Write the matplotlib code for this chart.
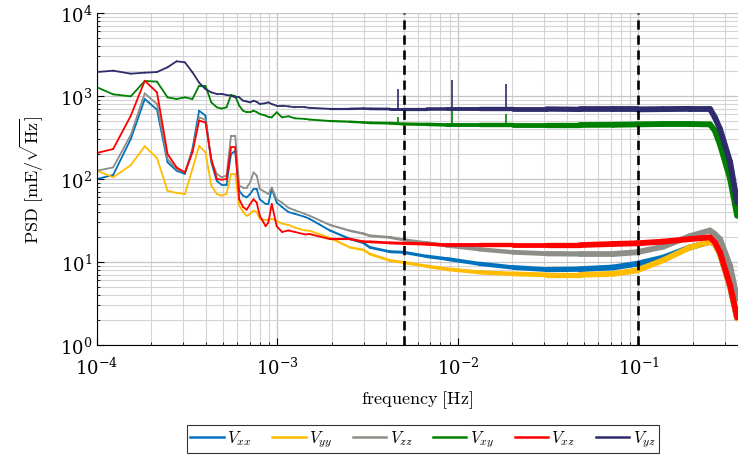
import matplotlib
matplotlib.use("Agg")
import matplotlib.pyplot as plt
from matplotlib.collections import LineCollection
from matplotlib.lines import Line2D
import numpy as np

plt.rcParams['mathtext.fontset'] = 'cm'
plt.rcParams['font.family'] = 'serif'
plt.rcParams['font.serif'] = ['DejaVu Serif']

# frequency axis [Hz]
freq = [1.00e-4, 1.23e-4, 1.54e-4, 1.84e-4, 2.15e-4, 2.46e-4, 2.76e-4, 3.07e-4,
        3.38e-4, 3.68e-4, 3.99e-4, 4.30e-4, 4.61e-4, 4.91e-4, 5.22e-4, 5.53e-4,
        5.83e-4, 6.14e-4, 6.45e-4, 6.75e-4, 7.06e-4, 7.37e-4, 7.67e-4, 7.98e-4,
        8.60e-4, 8.90e-4, 9.30e-4, 9.90e-4, 1.06e-3, 1.15e-3, 1.25e-3, 1.42e-3,
        1.51e-3, 1.95e-3, 2.52e-3, 2.99e-3, 3.25e-3, 4.20e-3, 4.98e-3, 6.70e-3,
        8.65e-3, 1.32e-2, 2.02e-2, 3.10e-2, 4.74e-2, 7.25e-2, 9.77e-2, 1.37e-1,
        1.93e-1, 2.49e-1, 2.65e-1, 2.83e-1, 3.22e-1, 3.52e-1]

Vxx = [100, 112, 304, 920, 684, 159, 126, 115, 230, 665, 580, 159, 95, 85, 85, 200,
       218, 72, 63, 60, 66, 76, 76, 57, 50, 50, 76, 52, 46, 40, 38, 35,
       33, 24, 19, 17, 15, 13.3, 13.1, 11.7, 10.9, 9.5, 8.6, 8.1, 8.2, 8.6, 9.5, 11.3,
       15, 17.5, 16.5, 12.5, 5.0, 2.1]
Vyy = [126, 105, 147, 248, 179, 72, 68, 66, 132, 252, 210, 83, 66, 63, 66, 115,
       115, 48, 40, 36, 38, 41.5, 40, 33, 32, 32, 33, 31.5, 29, 28, 26, 24,
       23.8, 19.5, 15, 14, 12.5, 10.4, 9.9, 8.9, 8.2, 7.5, 7.2, 7.0, 7.0, 7.2, 7.9, 10.5,
       15, 17.5, 16.5, 12.5, 5.0, 2.1]
Vzz = [126, 138, 340, 1076, 801, 174, 132, 120, 215, 553, 518, 166, 115, 105, 110, 333,
       333, 83, 79, 79, 91, 120, 110, 76, 69, 66, 79, 57, 52, 45, 42, 38,
       36, 28, 23.8, 22, 20.7, 19.8, 18.5, 17, 15.7, 14.2, 13.1, 12.6, 12.5, 12.5, 13.1, 15.3,
       20.5, 24, 21.7, 18.9, 9, 3.6]
Vxy = [1273, 1047, 991, 1517, 1490, 963, 920, 963, 920, 1330, 1330, 838, 731, 706, 731, 1028,
       1000, 764, 665, 637, 637, 665, 640, 608, 580, 560, 553, 637, 553, 570, 538, 530,
       520, 500, 490, 480, 475, 470, 460, 455, 448, 448, 448, 448, 448, 450, 455, 460,
       460, 455, 382, 260, 100, 36]
Vxz = [206, 230, 579, 1527, 1107, 200, 138, 120, 210, 505, 482, 174, 100, 98, 100, 241,
       241, 57, 46, 42.7, 50, 57, 52, 36, 27, 30, 50, 27, 23, 24, 23, 21.5,
       21.7, 18.9, 18.9, 17.6, 17.5, 17, 16.8, 16.5, 16, 16, 16, 16, 16, 16.5, 16.8, 17.6,
       18.9, 19.8, 17.3, 13.1, 5.2, 2.15]
Vyz = [1945, 2018, 1858, 1910, 1945, 2218, 2618, 2546, 1932, 1450, 1213, 1107, 1058, 1058, 1030, 1010,
       963, 963, 879, 860, 838, 879, 850, 801, 820, 838, 800, 764, 764, 750, 731, 731,
       720, 700, 700, 706, 700, 697, 697, 697, 697, 697, 697, 697, 690, 690, 690, 695,
       700, 700, 553, 400, 160, 52]

# narrow spikes of the upper two components
spike_freq = [4.63e-3, 9.26e-3, 1.85e-2]
Vyz_spike = [1213, 1560, 1384]
Vxy_spike = [560, 700, 607]

names = [r'$V_{xx}$', r'$V_{yy}$', r'$V_{zz}$', r'$V_{xy}$', r'$V_{xz}$', r'$V_{yz}$']
colors = ['#0072BD', '#FFBC00', '#8E8E88', '#008000', '#FF0000', '#2E2C6B']
series = [Vxx, Vyy, Vzz, Vxy, Vxz, Vyz]

fig = plt.figure(figsize=(7.38, 4.56), dpi=100)
ax = fig.add_axes([0.1314, 0.2412, 0.8686, 0.7281])
ax.set_xscale('log')
ax.set_yscale('log')

f = np.array(freq)
# line width grows with frequency to mimic the noisy band of the raw spectra
fmid = np.sqrt(f[:-1] * f[1:])
widths = np.interp(np.log10(fmid), [-2.8, -1.2], [1.3, 4.2])

handles = []
for vals, c, n in zip(series, colors, names):
    v = np.array(vals, dtype=float)
    pts = np.column_stack([f, v])
    segs = np.stack([pts[:-1], pts[1:]], axis=1)
    lc = LineCollection(segs, colors=c, linewidths=widths, capstyle='round', joinstyle='round')
    ax.add_collection(lc)
    handles.append(Line2D([], [], color=c, lw=1.8, label=n))
    if c == '#008000':
        ax.vlines(spike_freq, 455, Vxy_spike, color=c, lw=1.2)
    if c == '#2E2C6B':
        ax.vlines(spike_freq, 697, Vyz_spike, color=c, lw=1.2)

for xv in [5e-3, 1e-1]:
    ax.axvline(xv, color='black', lw=1.9, ls=(0, (3.5, 2.2)))

ax.set_xlim(1e-4, 0.356)
ax.set_ylim(1, 1e4)

ax.grid(True, which='major', color='#c4c4c4', lw=0.9)
ax.grid(True, which='minor', color='#d4d4d4', lw=0.8)
ax.set_axisbelow(True)
ax.tick_params(which='both', direction='in', labelsize=13)
ax.tick_params(axis='x', which='major', pad=8)
ax.tick_params(which='major', length=5)
ax.tick_params(which='minor', length=2.5)
ax.yaxis.set_minor_locator(matplotlib.ticker.LogLocator(base=10, subs=np.arange(2, 10), numticks=20))
ax.xaxis.set_minor_locator(matplotlib.ticker.LogLocator(base=10, subs=np.arange(2, 10), numticks=20))
ax.xaxis.set_minor_formatter(matplotlib.ticker.NullFormatter())
ax.spines['top'].set_visible(False)
ax.spines['right'].set_visible(False)

ax.set_xlabel(r'$\mathrm{frequency\ [Hz]}$', fontsize=13, labelpad=8)
ax.set_ylabel(r'$\mathrm{PSD\ [mE/\sqrt{Hz}]}$', fontsize=13, labelpad=10)

leg = fig.legend(handles=handles, loc='center', bbox_to_anchor=(0.573, 0.035),
                 ncol=6, fontsize=12, frameon=True, fancybox=False, edgecolor='black',
                 handlelength=2.0, handletextpad=0.2, columnspacing=1.25,
                 borderpad=0.2, borderaxespad=0)
leg.get_frame().set_linewidth(0.8)

fig.savefig('out.png', dpi=100)
